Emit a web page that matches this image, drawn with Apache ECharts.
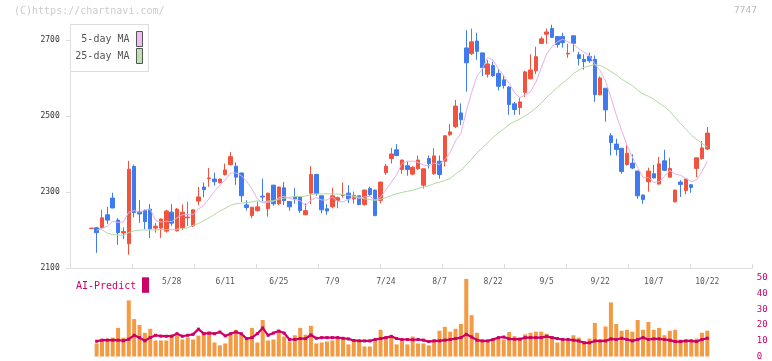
<!DOCTYPE html>
<html><head><meta charset="utf-8">
<script src="https://cdn.jsdelivr.net/npm/echarts@6/dist/echarts.min.js"></script>
<style>html,body{margin:0;padding:0;background:#fff}#c{width:772px;height:361px}</style>
</head><body><div id="c"></div>
<script>
const dates = ['5/7','5/8','5/9','5/12','5/13','5/14','5/15','5/16','5/19','5/20','5/21','5/22','5/23','5/26','5/27','5/28','5/29','5/30',
'6/2','6/3','6/4','6/5','6/6','6/9','6/10','6/11','6/12','6/13','6/16','6/17','6/18','6/19','6/20','6/23','6/24','6/25','6/26','6/27','6/30',
'7/1','7/2','7/3','7/4','7/7','7/8','7/9','7/10','7/11','7/14','7/15','7/16','7/17','7/18','7/22','7/23','7/24','7/25','7/28','7/29','7/30','7/31',
'8/1','8/4','8/5','8/6','8/7','8/8','8/12','8/13','8/14','8/15','8/18','8/19','8/20','8/21','8/22','8/25','8/26','8/27','8/28','8/29',
'9/1','9/2','9/3','9/4','9/5','9/8','9/9','9/10','9/11','9/12','9/16','9/17','9/18','9/19','9/22','9/24','9/25','9/26','9/29','9/30',
'10/1','10/2','10/3','10/6','10/7','10/8','10/9','10/10','10/14','10/15','10/16','10/17','10/20','10/21','10/22'];
const tickLabels = ['5/28','6/11','6/25','7/9','7/24','8/7','8/22','9/5','9/22','10/7','10/22'];
const priceTicks = [2100,2300,2500,2700];

const openP = [2204,2206,2206,2240,2284,2226,2192,2164,2367,2248,2251,2255,2205,2205,2197,2247,2198,2206,2232,2211,
2276,2313,2335,2334,2325,2346,2372,2368,2350,2266,2238,2251,2289,2256,2318,2269,2311,2275,2287,2287,
2240,2297,2346,2290,2256,2261,2278,2291,2297,2282,2290,2267,2309,2305,2278,2351,2388,2411,2359,2369,
2347,2361,2318,2388,2348,2381,2381,2451,2472,2508,2679,2664,2697,2666,2610,2633,2612,2595,2576,2532,
2522,2562,2598,2619,2691,2715,2730,2709,2709,2663,2711,2661,2649,2657,2649,2556,2573,2448,2426,2415,
2372,2376,2355,2292,2327,2348,2321,2382,2339,2274,2326,2304,2319,2362,2388,2413];
const closeP = [2205,2193,2232,2226,2258,2193,2196,2360,2246,2242,2222,2203,2210,2229,2250,2218,2255,2247,2234,2253,
2287,2306,2337,2327,2334,2358,2393,2339,2290,2259,2260,2261,2287,2297,2269,2313,2277,2261,2282,2251,
2251,2346,2296,2253,2250,2290,2285,2292,2282,2291,2267,2305,2293,2238,2326,2368,2400,2396,2384,2359,
2365,2384,2361,2375,2395,2346,2448,2458,2526,2490,2640,2695,2670,2627,2637,2606,2578,2580,2530,2517,
2537,2616,2621,2656,2703,2721,2707,2688,2693,2665,2691,2651,2643,2645,2556,2600,2516,2430,2412,2354,
2402,2363,2290,2280,2355,2337,2374,2357,2362,2305,2320,2334,2312,2390,2416,2455];
const lowP = [2204,2140,2205,2216,2257,2161,2176,2135,2233,2219,2202,2179,2193,2179,2193,2211,2196,2200,2211,2208,
2265,2286,2314,2317,2322,2343,2370,2319,2274,2251,2231,2248,2275,2235,2264,2265,2266,2251,2269,2245,
2239,2268,2290,2244,2240,2257,2257,2285,2271,2269,2265,2264,2290,2236,2270,2345,2375,2394,2348,2343,
2344,2358,2309,2362,2345,2335,2367,2447,2468,2476,2564,2660,2648,2605,2601,2603,2567,2572,2503,2503,
2503,2550,2596,2610,2690,2690,2705,2680,2680,2653,2669,2633,2622,2640,2537,2554,2485,2396,2396,2348,
2369,2360,2282,2269,2301,2336,2319,2355,2338,2273,2287,2294,2298,2339,2385,2410];
const highP = [2205,2207,2253,2261,2298,2231,2207,2382,2372,2279,2254,2268,2218,2230,2253,2268,2258,2267,2274,2254,
2313,2325,2363,2351,2335,2375,2405,2378,2351,2278,2260,2275,2335,2298,2319,2314,2326,2275,2310,2287,
2270,2368,2348,2291,2268,2311,2288,2325,2318,2301,2290,2306,2314,2306,2327,2374,2416,2426,2385,2380,
2368,2396,2362,2396,2415,2396,2448,2479,2542,2533,2726,2730,2719,2666,2647,2643,2623,2606,2578,2537,
2547,2619,2662,2682,2709,2730,2740,2709,2719,2690,2711,2669,2662,2667,2659,2604,2573,2455,2440,2416,
2423,2399,2356,2293,2364,2371,2392,2411,2390,2306,2331,2335,2321,2390,2434,2471];
const ma5 = [null,2199,2204,2210,2223,2220,2221,2247,2251,2247,2253,2255,2225,2221,2223,2222,2232,2240,2241,2241,
2255,2265,2283,2302,2318,2332,2350,2350,2343,2328,2308,2282,2271,2273,2275,2285,2289,2283,2280,2277,
2264,2278,2285,2279,2279,2287,2275,2274,2280,2288,2283,2287,2288,2279,2286,2306,2325,2346,2375,2381,
2381,2378,2371,2369,2376,2372,2385,2404,2435,2454,2512,2562,2604,2624,2654,2647,2624,2606,2586,2562,
2548,2556,2564,2589,2627,2663,2682,2695,2702,2695,2689,2677,2668,2659,2637,2619,2592,2549,2503,2462,
2423,2392,2364,2338,2338,2325,2327,2341,2357,2347,2344,2336,2327,2332,2354,2381];
const ma25 = [null,2210,2200,2192,2188,2187,2186,2193,2198,2200,2200,2200,2200,2201,2201,2201,2202,2203,2206,2212,
2217,2225,2232,2241,2250,2257,2265,2269,2271,2272,2274,2277,2274,2276,2277,2281,2284,2286,2288,2288,
2289,2293,2295,2295,2295,2295,2295,2293,2291,2289,2286,2282,2280,2278,2281,2285,2291,2295,2299,2302,
2304,2309,2313,2316,2322,2326,2330,2336,2347,2357,2371,2387,2403,2416,2430,2444,2455,2466,2478,2485,
2492,2501,2510,2521,2534,2549,2562,2575,2587,2598,2612,2620,2628,2632,2635,2633,2626,2617,2608,2597,
2588,2580,2568,2558,2552,2544,2534,2524,2512,2496,2480,2465,2450,2438,2428,2418];
const volume = [null,8.3,10.4,11.4,12,18.2,12,35.7,23.8,20.1,15.1,17.6,10.2,10.2,10.2,13.9,13.3,10.8,12,10.8,
13.3,15.1,15.8,8.9,7.1,8.3,13.9,17,13.9,11.4,18.2,8.9,23.2,10.2,10.8,15.8,12.7,9.5,13.5,18.2,
13.9,19.5,8.3,8.9,9.5,10.2,11.4,11.4,7.7,10.2,9.5,6.4,6.4,10.8,17,12.7,12,7.7,10.2,7.7,
12.7,8.3,8.3,7.1,10.8,16.4,18.9,15.8,17.6,20.7,49.4,26.3,15.1,10.2,10.2,11.4,11.4,10.8,15.6,12.9,
12,14.1,15.1,15.8,15.8,14.5,12.9,8.9,10.4,10.4,13.5,12,9.7,11.4,21.4,10.4,19.1,34.4,20.7,16.4,
17,15.8,23.2,17,22,17,18.2,13.5,16.4,17,10.8,10.8,10.8,11.4,15.1,16.4];
const aiPredict = [null,9.7,10.4,10.4,10.4,10.4,10,11,13.5,12,10,12,13.5,13,12.9,12.9,14.5,12.9,13.5,14.1,
17.4,14.5,14.9,14.5,15.6,13.1,14.5,15.6,14.5,11.4,12,14.5,18.2,13.5,14.9,16.2,14.9,10.8,10.8,11.4,
11.4,13.7,11.6,12,12,12,12,11.6,11.2,10.2,10,9.9,9.9,10.8,11.4,12,12.8,11.4,10.8,10.8,
10.6,10.8,10.4,9.5,9.9,9.9,10.4,10.8,11.4,12,14.1,12.4,10.4,9.9,9.9,10.8,12,12.4,11.2,11,
11,12,12,12,12,12.8,12,11.4,10.8,10.8,10.4,9.9,8.7,8.7,9.9,9.9,9.9,11.2,10.8,11.6,
10.8,9.9,10.8,12,10.8,11.2,11.2,10.8,10.4,9.5,9.5,9.9,9.9,9.5,10.8,11.6];

const PAD_L = 3, PAD_R = 8;
const cats = [];
for (let i = 0; i < PAD_L; i++) cats.push('_l' + i);
dates.forEach(d => cats.push(d));
for (let i = 0; i < PAD_R; i++) cats.push('_r' + i);

const candleData = dates.map((d, i) => [d, openP[i], closeP[i], lowP[i], highP[i]]);
const pair = arr => dates.map((d, i) => [d, arr[i]]).filter(p => p[1] != null);

const MONO = '"DejaVu Sans Mono", "Liberation Mono", monospace';
const CRIMSON = '#cc0066';
const chart = echarts.init(document.getElementById('c'), null, {renderer: 'canvas'});
const CL = 72.55, CW = 680.3;
chart.setOption({
  animation: false,
  backgroundColor: '#fff',
  grid: [
    {left: 70.7, top: 24, width: 681.6, height: 244},
    {left: CL, top: 24, width: CW, height: 244},
    {left: CL, top: 277.9, width: CW, height: 80.4}
  ],
  xAxis: [
    {gridIndex: 0, type: 'value', min: 0, max: 11, interval: 1,
     axisLine: {show: true, lineStyle: {color: '#dddddd', width: 1}},
     axisTick: {show: true, inside: true, length: 4, customValues: [0,1,2,3,4,5,6,7,8,9,10,11], lineStyle: {color: '#dddddd'}},
     axisLabel: {show: false}, splitLine: {show: false}},
    {gridIndex: 1, type: 'category', data: cats, boundaryGap: true,
     axisLine: {show: false}, axisTick: {show: false}, splitLine: {show: false},
     axisLabel: {interval: (idx, val) => tickLabels.indexOf(val) >= 0, margin: 10,
       fontFamily: MONO, fontSize: 8, color: '#555'}},
    {gridIndex: 2, type: 'category', data: cats, boundaryGap: true, show: false}
  ],
  yAxis: [
    {gridIndex: 0, type: 'value', min: 2100, max: 2742,
     axisLine: {show: true, lineStyle: {color: '#dddddd', width: 1}},
     axisTick: {show: true, length: 5, customValues: priceTicks, lineStyle: {color: '#dddddd'}},
     axisLabel: {customValues: priceTicks, formatter: v => String(v), margin: 11, fontFamily: MONO, fontSize: 8, color: '#333'},
     splitLine: {show: false}},
    {gridIndex: 1, type: 'value', min: 2100, max: 2742, show: false, splitLine: {show: false}},
    {gridIndex: 2, type: 'value', min: 0, max: 50, interval: 10, position: 'right',
     axisLine: {show: false}, axisTick: {show: false}, splitLine: {show: false},
     axisLabel: {margin: 4, fontFamily: MONO, fontSize: 9, color: CRIMSON, formatter: v => String(v)}}
  ],
  series: [
    {type: 'candlestick', xAxisIndex: 1, yAxisIndex: 1, data: candleData,
     encode: {x: 0, y: [1, 2, 3, 4]}, barWidth: 4,
     itemStyle: {color: '#f2533f', color0: '#3f7bee', borderColor: '#f2533f', borderColor0: '#3f7bee', borderWidth: 1}},
    {type: 'line', xAxisIndex: 1, yAxisIndex: 1, data: pair(ma5), symbol: 'none',
     lineStyle: {color: '#e6b0e6', width: 1}, z: 3},
    {type: 'line', xAxisIndex: 1, yAxisIndex: 1, data: pair(ma25), symbol: 'none',
     lineStyle: {color: '#b2d9a4', width: 1}, z: 3},
    {type: 'bar', xAxisIndex: 2, yAxisIndex: 2, data: pair(volume), barWidth: 4,
     itemStyle: {color: '#f39a42'}},
    {type: 'line', xAxisIndex: 2, yAxisIndex: 2, data: pair(aiPredict),
     symbol: 'rect', symbolSize: 3, showAllSymbol: true,
     itemStyle: {color: CRIMSON}, lineStyle: {color: CRIMSON, width: 2.2}, z: 4}
  ],
  graphic: [
    {type: 'text', left: 14, top: 6, z: 10, style: {text: '(C)https://chartnavi.com/', fontFamily: MONO, fontSize: 10, fill: '#cccccc'}},
    {type: 'text', right: 15, top: 6, z: 10, style: {text: '7747', fontFamily: MONO, fontSize: 9.5, fill: '#bbbbbb'}},
    {type: 'rect', z: 20, shape: {x: 70.5, y: 24.5, width: 78, height: 47}, style: {fill: '#ffffff', stroke: '#dddddd', lineWidth: 1}},
    {type: 'text', z: 21, x: 129.5, y: 39.5, style: {text: '5-day MA', fontFamily: MONO, fontSize: 10, fill: '#555555', align: 'right', verticalAlign: 'middle'}},
    {type: 'text', z: 21, x: 129.5, y: 56, style: {text: '25-day MA', fontFamily: MONO, fontSize: 10, fill: '#555555', align: 'right', verticalAlign: 'middle'}},
    {type: 'rect', z: 21, shape: {x: 136.5, y: 31.5, width: 6, height: 15}, style: {fill: '#efbdef', stroke: '#555555', lineWidth: 1}},
    {type: 'rect', z: 21, shape: {x: 136.5, y: 48.5, width: 6, height: 15}, style: {fill: '#bfe0b2', stroke: '#555555', lineWidth: 1}},
    {type: 'text', z: 21, x: 76, y: 286, style: {text: 'AI-Predict', fontFamily: MONO, fontSize: 10, fill: CRIMSON, verticalAlign: 'middle'}},
    {type: 'rect', z: 21, shape: {x: 142, y: 277.3, width: 7, height: 15.5}, style: {fill: CRIMSON}}
  ]
});
</script></body></html>
